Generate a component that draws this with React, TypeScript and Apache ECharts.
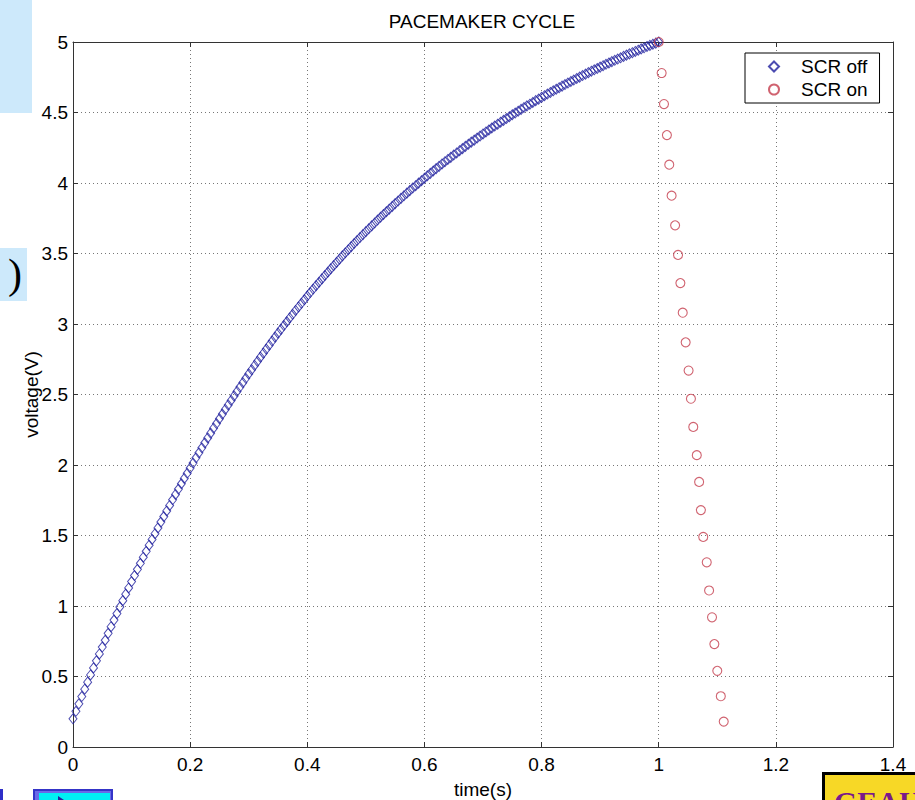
import React, { useEffect, useRef } from "react";
import * as echarts from "echarts";

const chartTitle = "PACEMAKER CYCLE";
const xAxisName = "time(s)";
const yAxisName = "voltage(V)";
const seriesNames = ["SCR off", "SCR on"];

const offTime = [
  0, 0.005, 0.01, 0.015, 0.02, 0.025, 0.03, 0.035, 0.04, 0.045,
  0.05, 0.055, 0.06, 0.065, 0.07, 0.075, 0.08, 0.085, 0.09, 0.095,
  0.1, 0.105, 0.11, 0.115, 0.12, 0.125, 0.13, 0.135, 0.14, 0.145,
  0.15, 0.155, 0.16, 0.165, 0.17, 0.175, 0.18, 0.185, 0.19, 0.195,
  0.2, 0.205, 0.21, 0.215, 0.22, 0.225, 0.23, 0.235, 0.24, 0.245,
  0.25, 0.255, 0.26, 0.265, 0.27, 0.275, 0.28, 0.285, 0.29, 0.295,
  0.3, 0.305, 0.31, 0.315, 0.32, 0.325, 0.33, 0.335, 0.34, 0.345,
  0.35, 0.355, 0.36, 0.365, 0.37, 0.375, 0.38, 0.385, 0.39, 0.395,
  0.4, 0.405, 0.41, 0.415, 0.42, 0.425, 0.43, 0.435, 0.44, 0.445,
  0.45, 0.455, 0.46, 0.465, 0.47, 0.475, 0.48, 0.485, 0.49, 0.495,
  0.5, 0.505, 0.51, 0.515, 0.52, 0.525, 0.53, 0.535, 0.54, 0.545,
  0.55, 0.555, 0.56, 0.565, 0.57, 0.575, 0.58, 0.585, 0.59, 0.595,
  0.6, 0.605, 0.61, 0.615, 0.62, 0.625, 0.63, 0.635, 0.64, 0.645,
  0.65, 0.655, 0.66, 0.665, 0.67, 0.675, 0.68, 0.685, 0.69, 0.695,
  0.7, 0.705, 0.71, 0.715, 0.72, 0.725, 0.73, 0.735, 0.74, 0.745,
  0.75, 0.755, 0.76, 0.765, 0.77, 0.775, 0.78, 0.785, 0.79, 0.795,
  0.8, 0.805, 0.81, 0.815, 0.82, 0.825, 0.83, 0.835, 0.84, 0.845,
  0.85, 0.855, 0.86, 0.865, 0.87, 0.875, 0.88, 0.885, 0.89, 0.895,
  0.9, 0.905, 0.91, 0.915, 0.92, 0.925, 0.93, 0.935, 0.94, 0.945,
  0.95, 0.955, 0.96, 0.965, 0.97, 0.975, 0.98, 0.985, 0.99, 0.995,
  1.0,
];

const offVoltage = [
  0.200, 0.253, 0.306, 0.358, 0.410, 0.460, 0.511, 0.561, 0.611, 0.660,
  0.709, 0.757, 0.806, 0.853, 0.900, 0.946, 0.993, 1.038, 1.084, 1.128,
  1.173, 1.216, 1.260, 1.303, 1.346, 1.388, 1.431, 1.472, 1.513, 1.554,
  1.595, 1.634, 1.674, 1.713, 1.753, 1.791, 1.829, 1.867, 1.905, 1.941,
  1.978, 2.014, 2.051, 2.086, 2.122, 2.157, 2.192, 2.226, 2.261, 2.294,
  2.328, 2.361, 2.394, 2.426, 2.458, 2.490, 2.522, 2.553, 2.584, 2.615,
  2.646, 2.676, 2.706, 2.735, 2.765, 2.793, 2.822, 2.850, 2.879, 2.907,
  2.935, 2.962, 2.989, 3.016, 3.043, 3.069, 3.096, 3.121, 3.147, 3.172,
  3.198, 3.223, 3.248, 3.272, 3.296, 3.320, 3.344, 3.367, 3.391, 3.414,
  3.437, 3.460, 3.483, 3.505, 3.527, 3.549, 3.571, 3.592, 3.613, 3.634,
  3.655, 3.675, 3.696, 3.716, 3.737, 3.757, 3.777, 3.796, 3.815, 3.834,
  3.854, 3.872, 3.891, 3.909, 3.928, 3.946, 3.964, 3.981, 3.999, 4.016,
  4.034, 4.051, 4.068, 4.085, 4.102, 4.118, 4.135, 4.151, 4.167, 4.182,
  4.198, 4.213, 4.229, 4.244, 4.260, 4.275, 4.290, 4.304, 4.319, 4.333,
  4.348, 4.362, 4.376, 4.390, 4.404, 4.417, 4.431, 4.444, 4.457, 4.470,
  4.484, 4.496, 4.509, 4.522, 4.535, 4.547, 4.559, 4.571, 4.584, 4.595,
  4.607, 4.619, 4.631, 4.642, 4.654, 4.665, 4.676, 4.687, 4.698, 4.709,
  4.720, 4.730, 4.741, 4.751, 4.762, 4.772, 4.783, 4.793, 4.803, 4.812,
  4.822, 4.832, 4.842, 4.851, 4.861, 4.870, 4.879, 4.888, 4.898, 4.907,
  4.916, 4.924, 4.933, 4.942, 4.951, 4.959, 4.968, 4.976, 4.984, 4.992,
  5.000,
];

const onTime = [
  1.000, 1.005, 1.009, 1.014, 1.018, 1.022, 1.028, 1.033, 1.037, 1.041,
  1.046, 1.051, 1.055, 1.059, 1.065, 1.069, 1.072, 1.076, 1.082, 1.086,
  1.091, 1.095, 1.100, 1.106, 1.111,
];

const onVoltage = [
  5.00, 4.78, 4.56, 4.34, 4.13, 3.91, 3.70, 3.49, 3.29, 3.08,
  2.87, 2.67, 2.47, 2.27, 2.07, 1.88, 1.68, 1.49, 1.31, 1.11,
  0.92, 0.73, 0.54, 0.36, 0.18,
];

const FONT = "'Liberation Sans', Arial, Helvetica, sans-serif";
const SERIF = "'Liberation Serif', 'Times New Roman', serif";
const FS = 19;

function buildOption(): any {
  const axisLineStyle = { color: "#333", width: 1 };
  const gridLine = { show: true, lineStyle: { color: "#777", width: 1, type: [1, 3] } };
  const fmt = (v: number) => String(Math.round(v * 10) / 10);
  return {
    animation: false,
    backgroundColor: "#ffffff",
    title: {
      text: chartTitle,
      left: 477,
      top: 7,
      textAlign: "center",
      textStyle: { fontFamily: FONT, fontSize: FS, fontWeight: "normal", color: "#000" },
    },
    grid: { left: 73, right: 22, top: 42, bottom: 53, containLabel: false, outerBoundsMode: "none" },
    legend: {
      orient: "vertical",
      left: 745,
      top: 53,
      padding: [4, 12, 4, 23],
      itemGap: 4,
      itemWidth: 10,
      itemHeight: 10,
      backgroundColor: "#fff",
      borderColor: "#000",
      borderWidth: 1,
      borderRadius: 0,
      textStyle: { fontFamily: FONT, fontSize: FS, color: "#000", padding: [0, 0, 0, 17] },
      data: seriesNames,
    },
    xAxis: [
      {
        type: "value",
        min: 0,
        max: 1.4,
        interval: 0.2,
        position: "bottom",
        name: xAxisName,
        nameLocation: "middle",
        nameGap: 33,
        nameMoveOverlap: false,
        nameTextStyle: { fontFamily: FONT, fontSize: FS, color: "#000" },
        axisLine: { show: true, onZero: false, lineStyle: axisLineStyle },
        axisTick: { show: true, inside: true, length: 5, lineStyle: axisLineStyle },
        axisLabel: { show: true, color: "#000", fontFamily: FONT, fontSize: FS, margin: 8, formatter: fmt },
        splitLine: gridLine,
      },
      {
        type: "value",
        min: 0,
        max: 1.4,
        interval: 0.2,
        position: "top",
        axisLine: { show: true, onZero: false, lineStyle: axisLineStyle },
        axisTick: { show: true, inside: true, length: 5, lineStyle: axisLineStyle },
        axisLabel: { show: false },
        splitLine: { show: false },
      },
    ],
    yAxis: [
      {
        type: "value",
        min: 0,
        max: 5,
        interval: 0.5,
        position: "left",
        name: yAxisName,
        nameLocation: "middle",
        nameGap: 32,
        nameMoveOverlap: false,
        nameRotate: 90,
        nameTextStyle: { fontFamily: FONT, fontSize: FS, color: "#000" },
        axisLine: { show: true, onZero: false, lineStyle: axisLineStyle },
        axisTick: { show: true, inside: true, length: 5, lineStyle: axisLineStyle },
        axisLabel: { show: true, color: "#000", fontFamily: FONT, fontSize: FS, margin: 5, formatter: fmt },
        splitLine: gridLine,
      },
      {
        type: "value",
        min: 0,
        max: 5,
        interval: 0.5,
        position: "right",
        axisLine: { show: true, onZero: false, lineStyle: axisLineStyle },
        axisTick: { show: true, inside: true, length: 5, lineStyle: axisLineStyle },
        axisLabel: { show: false },
        splitLine: { show: false },
      },
    ],
    series: [
      {
        name: seriesNames[0],
        type: "scatter",
        xAxisIndex: 0,
        yAxisIndex: 0,
        symbol: "diamond",
        symbolSize: [8, 10],
        data: offTime.map((t, i) => [t, offVoltage[i]]),
        itemStyle: { color: "rgba(0,0,0,0)", borderColor: "#1f1f9e", borderWidth: 1 },
        emphasis: { disabled: true },
        z: 3,
      },
      {
        name: seriesNames[1],
        type: "scatter",
        xAxisIndex: 0,
        yAxisIndex: 0,
        symbol: "circle",
        symbolSize: 9,
        data: onTime.map((t, i) => [t, onVoltage[i]]),
        itemStyle: { color: "rgba(0,0,0,0)", borderColor: "#c43c4c", borderWidth: 1.1 },
        emphasis: { disabled: true },
        z: 4,
      },
    ],
    graphic: [
      { type: "rect", shape: { x: 0, y: 0, width: 32, height: 113 }, style: { fill: "#cde9fb" }, z: 0 },
      { type: "rect", shape: { x: 0, y: 248, width: 27, height: 53 }, style: { fill: "#cde9fb" }, z: 0 },
      {
        type: "text",
        x: 8,
        y: 253,
        style: { text: ")", fontFamily: SERIF, fontSize: 42, fill: "#000", textVerticalAlign: "top" },
        z: 1,
      },
      { type: "rect", shape: { x: 0, y: 789, width: 3, height: 11 }, style: { fill: "#2f2fc8" } },
      { type: "rect", shape: { x: 33, y: 789, width: 80, height: 11 }, style: { fill: "#3434c8" } },
      { type: "rect", shape: { x: 35, y: 791, width: 76, height: 9 }, style: { fill: "#6a6ae8" } },
      { type: "rect", shape: { x: 39, y: 793, width: 71, height: 7 }, style: { fill: "#00f0f4" } },
      { type: "polygon", shape: { points: [[58, 796], [64, 800], [58, 800]] }, style: { fill: "#2222a0" } },
      { type: "rect", shape: { x: 822, y: 772, width: 100, height: 40 }, style: { fill: "#000" } },
      { type: "rect", shape: { x: 825, y: 775, width: 100, height: 40 }, style: { fill: "#f7d826" } },
      {
        type: "text",
        x: 834,
        y: 786,
        style: { text: "GEAUX", fontFamily: SERIF, fontSize: 30, fontWeight: "bold", fill: "#7a1a8a", textVerticalAlign: "top" },
      },
    ],
  };
}

export default function App() {
  const ref = useRef<HTMLDivElement>(null);
  useEffect(() => {
    if (!ref.current) return;
    const chart = echarts.init(ref.current, null, { renderer: "svg" });
    chart.setOption(buildOption());
    return () => chart.dispose();
  }, []);
  return (
    <div
      ref={ref}
      style={{ position: "absolute", left: 0, top: 0, width: 915, height: 800, background: "#fff" }}
    />
  );
}
